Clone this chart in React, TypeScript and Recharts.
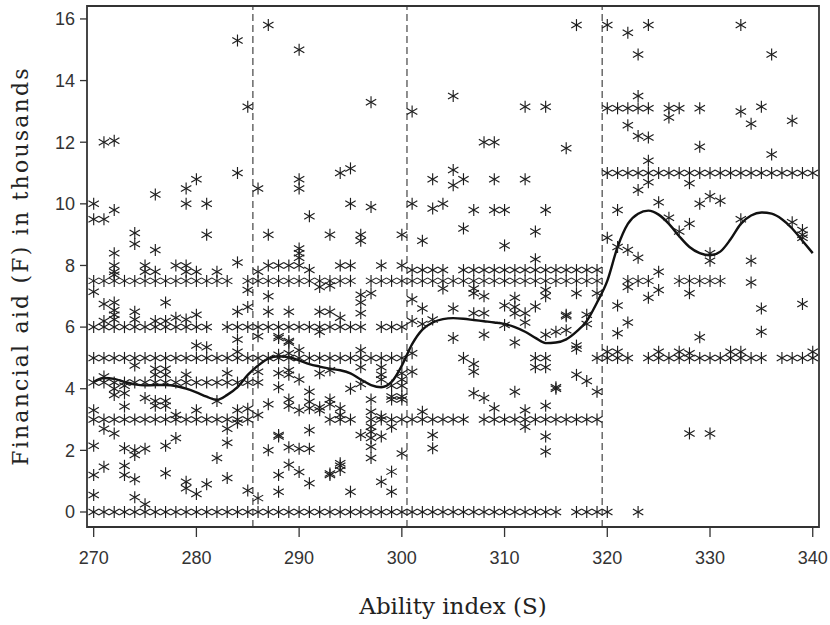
import React from 'react';
import { ComposedChart, XAxis, YAxis, Scatter, Line, ReferenceLine, ReferenceArea } from 'recharts';

const xTicks = [270, 280, 290, 300, 310, 320, 330, 340];
const yTicks = [0, 2, 4, 6, 8, 10, 12, 14, 16];
const cutoffs = [285.5, 300.5, 319.5];

// Rows of students sharing the same aid value (F level, ability values S)
const row0 = [270, 271, 272, 273, 274, 275, 276, 277, 278, 279, 280, 281, 282, 283, 284, 285, 286, 287, 288, 289, 290, 291, 292, 293, 294, 295, 296, 297, 298, 299, 300, 301, 302, 303, 304, 305, 306, 307, 308, 309, 310, 311, 312, 313, 314, 315, 317, 318, 319, 320, 323];
const row3 = [270, 271, 272, 273, 274, 275, 276, 277, 278, 279, 280, 281, 282, 283, 284, 285, 293, 294, 295, 297, 298, 299, 300, 301, 302, 303, 304, 305, 306, 308, 309, 310, 311, 312, 313, 314, 315, 316, 317, 318, 319];
const row4p2 = [270, 271, 272, 273, 274, 275, 276, 277, 278, 279, 280, 281, 282, 283, 284, 285];
const row5 = [270, 271, 272, 273, 274, 275, 276, 277, 278, 279, 280, 281, 282, 283, 284, 285, 286, 287, 288, 289, 290, 291, 292, 293, 294, 295, 296, 297, 298, 299, 300];
const row5Upper = [319, 320, 321, 322, 324, 325, 326, 327, 328, 329, 330, 331, 332, 333, 334, 335, 337, 338, 339, 340];
const row6 = [270, 271, 272, 273, 274, 275, 276, 277, 278, 279, 280, 281, 283, 284, 285, 286, 287, 288, 289, 290, 291, 292, 293, 294, 295, 296, 298, 299, 300];
const row7p5 = [270, 271, 272, 273, 274, 275, 276, 277, 278, 279, 280, 281, 282, 283, 285, 286, 287, 288, 289, 290, 291, 292, 293, 294, 295, 297, 298, 299, 300, 301, 302, 303, 304, 305, 306, 307, 308, 309, 310, 311, 312, 313, 314, 315, 316, 317, 318, 319, 322, 323, 324, 327, 328, 329, 330, 331];
const row7p85 = [301, 302, 303, 304, 306, 307, 308, 309, 310, 311, 312, 313, 314, 315, 316, 317, 318, 319];
const row8 = [287, 288, 289, 290, 294, 295, 298, 300];
const row9p5 = [270, 271];
const row11 = [320, 321, 322, 323, 324, 325, 326, 327, 328, 329, 330, 331, 332, 333, 334, 335, 336, 337, 338, 339, 340];
const row13p1 = [320, 321, 322, 323, 324];

// Individual students [S, F]
const scattered: [number, number][] = [
  [271, 12], [272, 12.05], [270, 10], [272, 9.8], [274, 9.05], [274, 8.7], [276, 10.3], [276, 8.5], [272, 8.4],
  [279, 10.5], [280, 10.8], [279, 10], [281, 10], [281, 9], [284, 15.3], [285, 13.15], [284, 11], [287, 15.8],
  [286, 10.5], [287, 9], [290, 15], [290, 10.8], [290, 10.5], [291, 9.6], [293, 9], [294, 11], [295, 11.15],
  [295, 10], [297, 9.9], [297, 13.3], [296, 9], [296, 8.8], [300, 9], [301, 13], [302, 8.8], [305, 13.5],
  [303, 10.8], [305, 11.1], [305, 10.6], [306, 10.8], [301, 10], [303, 9.85], [304, 10], [306, 9.2], [307, 9.8],
  [308, 12], [309, 12], [309, 10.8], [309, 9.8], [310, 9.8], [310, 8.65], [312, 13.15], [314, 13.15], [312, 10.8],
  [313, 9.1], [314, 9.8], [316, 11.8], [317, 15.8], [320, 15.8], [322, 15.55], [324, 15.8], [323, 14.85],
  [333, 15.8], [336, 14.85], [323, 13.5], [326, 13.1], [327, 13.1], [326, 12.8], [329, 13.1], [333, 13.0],
  [335, 13.15], [334, 12.6], [338, 12.7], [322, 12.55], [323, 12.2], [324, 12.15], [329, 11.85], [336, 11.6],
  [324, 11.4], [324, 10.7], [323, 10.45], [328, 10.67], [329, 10], [330, 10.25], [331, 10.1], [325, 10.05],
  [321, 9.8], [326, 9.55], [328, 9.35], [327, 9.1], [333, 9.5], [338, 9.4], [339, 9.15], [339, 9.0], [339, 8.9],
  [320, 8.9], [321, 8.6], [322, 8.5], [323, 8.25], [330, 8.4], [330, 8.15], [334, 8.15], [290, 8.55], [290, 8.4],
  [290, 8.25], [284, 8.1],
  [272, 8.0], [272, 7.8], [272, 7.7], [275, 8.0], [275, 7.8], [276, 7.8], [278, 8.0], [279, 8.0], [279, 7.8],
  [280, 7.8], [282, 7.8], [270, 7.15], [285, 7.2], [285, 6.65], [286, 7.8], [291, 7.85], [292, 7.3], [293, 7.35],
  [271, 6.75], [272, 6.8], [272, 6.55], [272, 6.4], [274, 6.5], [277, 6.8], [280, 6.4], [284, 6.5], [287, 7.0],
  [287, 6.5], [289, 6.5], [292, 6.5], [293, 6.5], [294, 6.3], [296, 7.05], [296, 6.8], [296, 6.45], [297, 7.1],
  [271, 6.2], [272, 6.25], [274, 6.25], [276, 6.2], [277, 6.2], [278, 6.3], [279, 6.25], [292, 5.85], [286, 5.7],
  [288, 5.65], [288, 5.7], [289, 5.55], [280, 5.4], [281, 5.35], [284, 5.6], [284, 5.2],
  [301, 6.9], [302, 6.6], [304, 7.25], [305, 6.6], [307, 7.25], [307, 7.1], [308, 7.0], [307, 6.45], [308, 6.45],
  [310, 6.7], [311, 6.95], [311, 6.65], [311, 6.45], [312, 6.45], [313, 6.67], [312, 6.15], [314, 7.2], [314, 7.0],
  [316, 6.35], [316, 5.9], [315, 5.85], [314, 5.75], [317, 5.4], [305, 5.65], [308, 5.75], [311, 5.5], [313, 8.2],
  [301, 6.2], [302, 6.1], [303, 6.25], [310, 6.07], [318, 6.4], [318, 6.1], [319, 7.1], [317, 7.1], [316, 6.4],
  [301, 5.15], [301, 4.55], [306, 5.0], [307, 4.8], [307, 4.55], [317, 5.3], [313, 5.0], [313, 4.7], [314, 5.0],
  [314, 4.7], [315, 4.05], [315, 4.0], [317, 4.45], [318, 4.25], [319, 3.9], [307, 3.85], [308, 3.7], [309, 3.37],
  [311, 3.9], [312, 3.3], [312, 2.77], [314, 3.45], [314, 2.45], [314, 1.96], [302, 3.25], [303, 2.5], [303, 2.07],
  [321, 6.7], [325, 7.8], [325, 7.2], [324, 6.95], [322, 7.3], [328, 7.1], [334, 7.45], [335, 6.6], [335, 5.85],
  [339, 6.75], [322, 6.15], [321, 5.8], [329, 5.67], [320, 5.2], [321, 5.2], [325, 5.2], [327, 5.2], [328, 5.15],
  [332, 5.2], [333, 5.2], [340, 5.2], [328, 2.55], [330, 2.55],
  [274, 4.75], [276, 4.65], [277, 4.65], [276, 4.45], [277, 4.45], [279, 4.45], [283, 4.5], [286, 4.55], [286, 4.2],
  [271, 4.4], [272, 4.0], [272, 3.8], [273, 4.1], [273, 3.85], [273, 3.42], [275, 3.7], [276, 3.6], [277, 3.6],
  [276, 3.45], [277, 3.45], [270, 3.3], [280, 3.3], [284, 3.3], [285, 3.35], [284, 2.9], [286, 3.15], [287, 3.5],
  [271, 2.7], [272, 2.55], [283, 2.7], [283, 2.25], [270, 2.15], [273, 2.07], [274, 2.0], [275, 2.05], [274, 1.85],
  [277, 2.15], [278, 2.4], [278, 3.15], [282, 1.75], [270, 1.2], [271, 1.47], [273, 1.5], [273, 1.2], [274, 1.06],
  [277, 1.26], [279, 0.98], [279, 0.77], [280, 0.58], [281, 0.9], [283, 1.1], [270, 0.55], [274, 0.48], [275, 0.25],
  [285, 0.7], [286, 0.45], [282, 3.6],
  [288, 4.5], [289, 4.6], [289, 4.45], [290, 4.3], [288, 5.1], [289, 5.15], [288, 4.05], [289, 3.65], [289, 3.45],
  [290, 3.3], [291, 3.9], [291, 3.58], [291, 3.37], [292, 3.3], [293, 3.5], [287, 2.0], [288, 2.5], [288, 2.45],
  [289, 2.1], [290, 2.05], [291, 2.05], [291, 2.65], [288, 1.2], [288, 0.66], [289, 1.53], [290, 1.3], [291, 0.93],
  [293, 1.2], [294, 1.58], [294, 1.36], [295, 0.66], [298, 0.98], [299, 1.31], [299, 0.66], [300, 1.9], [289, 5.5],
  [290, 5.25], [293, 4.6], [292, 4.5], [295, 4.0], [296, 4.15], [298, 4.7], [298, 4.45], [298, 4.3], [299, 4.1],
  [300, 4.1], [299, 3.75], [300, 3.75], [300, 4.5], [300, 4.3], [296, 5.25], [296, 4.7], [294, 3.37], [294, 3.15],
  [292, 3.4], [293, 3.65], [296, 2.5], [297, 3.65], [297, 3.25], [297, 2.77], [297, 2.6], [297, 2.4], [297, 2.12],
  [297, 1.75], [298, 3.1], [298, 2.45], [299, 2.77], [293, 1.25], [294, 1.5], [299, 3.65], [300, 3.65],
];

// Smooth fit of F on S
const fitS = [270, 271, 272, 273, 274, 275, 276, 277, 278, 279, 280, 281, 282, 283, 284, 285, 286, 287, 288, 289, 290, 291, 292, 293, 294, 295, 296, 297, 298, 299, 300, 301, 302, 303, 304, 305, 306, 307, 308, 309, 310, 311, 312, 313, 314, 315, 316, 317, 318, 319, 320, 321, 322, 323, 324, 325, 326, 327, 328, 329, 330, 331, 332, 333, 334, 335, 336, 337, 338, 339, 340];
const fitF = [4.22, 4.35, 4.32, 4.22, 4.14, 4.11, 4.12, 4.12, 4.09, 4.0, 3.88, 3.74, 3.64, 3.8, 4.05, 4.45, 4.75, 4.98, 5.05, 5.02, 4.92, 4.8, 4.72, 4.65, 4.6, 4.5, 4.3, 4.12, 4.05, 4.22, 4.75, 5.45, 5.92, 6.15, 6.26, 6.29, 6.27, 6.23, 6.19, 6.15, 6.1, 6.0, 5.85, 5.65, 5.48, 5.5, 5.6, 5.85, 6.2, 6.8, 7.5, 8.6, 9.35, 9.68, 9.78, 9.65, 9.35, 8.95, 8.6, 8.4, 8.33, 8.45, 8.85, 9.35, 9.62, 9.72, 9.68, 9.5, 9.2, 8.8, 8.4];

const rowSets: [number, number[]][] = [
  [0, row0], [3, row3], [4.2, row4p2], [5, row5], [5, row5Upper], [6, row6], [7.5, row7p5],
  [7.85, row7p85], [8, row8], [9.5, row9p5], [11, row11], [13.1, row13p1],
];

const points = [
  ...rowSets.flatMap(([f, ss]) => ss.map((s) => ({ s, f }))),
  ...scattered.map(([s, f]) => ({ s, f })),
];
const fit = fitS.map((s, i) => ({ s, f: fitF[i] }));

const X_DOMAIN: [number, number] = [269.35, 340.61];
const Y_DOMAIN: [number, number] = [-0.487, 16.42];

const Asterisk = (props: any) => {
  const { cx, cy } = props;
  if (cx == null || cy == null) return null;
  const r = 6;
  const dx = r * 0.866;
  const dy = r * 0.5;
  return (
    <g stroke="#1e1e1e" strokeWidth={1.15} fill="none">
      <line x1={cx} y1={cy - r} x2={cx} y2={cy + r} />
      <line x1={cx - dx} y1={cy - dy} x2={cx + dx} y2={cy + dy} />
      <line x1={cx - dx} y1={cy + dy} x2={cx + dx} y2={cy - dy} />
    </g>
  );
};

const tickStyle = { fontFamily: 'Liberation Sans, Arial, sans-serif', fontSize: 18, fill: '#333' };
const titleFont = 'DejaVu Serif, serif';

export default function App() {
  return (
    <div style={{ position: 'absolute', left: 0, top: 0, width: 830, height: 625, background: '#fff' }}>
      <ComposedChart width={830} height={625} margin={{ top: 6, right: 11, left: 0, bottom: 0 }}>
        <XAxis
          type="number"
          dataKey="s"
          domain={X_DOMAIN}
          allowDataOverflow
          ticks={xTicks}
          tickSize={10}
          tickMargin={14}
          height={98}
          axisLine={false}
          tickLine={{ stroke: '#333', strokeWidth: 1.3 }}
          tick={tickStyle}
          label={{
            content: () => (
              <text x={453} y={614} textAnchor="middle" fontFamily={titleFont} fontSize={23} fill="#222">
                Ability index (S)
              </text>
            ),
          }}
        />
        <YAxis
          type="number"
          dataKey="f"
          domain={Y_DOMAIN}
          allowDataOverflow
          ticks={yTicks}
          tickSize={7}
          tickMargin={5}
          width={87}
          axisLine={false}
          tickLine={{ stroke: '#333', strokeWidth: 1.3 }}
          tick={tickStyle}
          label={{
            content: () => (
              <text
                transform="translate(28,266) rotate(-90)"
                textAnchor="middle"
                fontFamily={titleFont}
                fontSize={22}
                letterSpacing={2.2}
                fill="#222"
              >
                Financial aid (F) in thousands
              </text>
            ),
          }}
        />
        <ReferenceArea
          x1={X_DOMAIN[0]}
          x2={X_DOMAIN[1]}
          y1={Y_DOMAIN[0]}
          y2={Y_DOMAIN[1]}
          fill="none"
          stroke="#333"
          strokeWidth={1.8}
          ifOverflow="visible"
        />
        {cutoffs.map((c) => (
          <ReferenceLine key={c} x={c} stroke="#333" strokeWidth={1.1} strokeDasharray="7 4" />
        ))}
        <Scatter data={points} dataKey="f" shape={<Asterisk />} isAnimationActive={false} />
        <Line
          data={fit}
          dataKey="f"
          type="monotone"
          stroke="#111"
          strokeWidth={2.4}
          dot={false}
          activeDot={false}
          isAnimationActive={false}
        />
      </ComposedChart>
    </div>
  );
}
